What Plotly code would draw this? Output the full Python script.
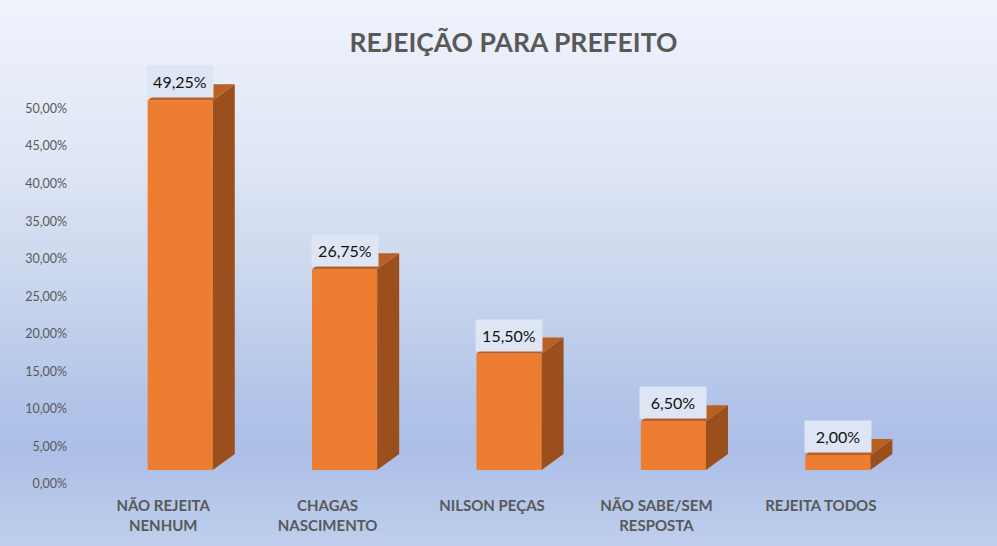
import plotly.graph_objects as go

# chart data
CATEGORIES = [
    "NÃO REJEITA<br>NENHUM",
    "CHAGAS<br>NASCIMENTO",
    "NILSON PEÇAS",
    "NÃO SABE/SEM<br>RESPOSTA",
    "REJEITA TODOS",
]
VALUES = [0.4925, 0.2675, 0.155, 0.065, 0.02]
Y_TICKS = [0.0, 0.05, 0.10, 0.15, 0.20, 0.25, 0.30, 0.35, 0.40, 0.45, 0.50]

FRONT = "#ED7D31"
SIDE = "#9B4F1D"
TOP = "#BA5F23"
TEXT_GRAY = "#595959"

W, H = 997, 546
MARGIN = dict(l=98, r=77, t=57, b=76)

BAR_W = 0.396      # bar width in category units
DEPTH_X = 0.134    # 3D depth offset (category units)
DEPTH_Y = 0.0213   # 3D depth offset (value units)

# background gradient stops: (pixel y, colour)
BG_STOPS = [
    (0, (239, 243, 252)),
    (150, (225, 231, 246)),
    (270, (204, 216, 238)),
    (400, (178, 196, 232)),
    (450, (172, 191, 230)),
    (546, (191, 206, 236)),
]


def bg_color(py):
    for (y0, c0), (y1, c1) in zip(BG_STOPS, BG_STOPS[1:]):
        if y0 <= py <= y1:
            t = (py - y0) / (y1 - y0)
            c = [round(a + (b - a) * t) for a, b in zip(c0, c1)]
            return f"rgb({c[0]},{c[1]},{c[2]})"
    c = BG_STOPS[-1][1]
    return f"rgb({c[0]},{c[1]},{c[2]})"


def px_to_paper(py):
    plot_h = H - MARGIN["t"] - MARGIN["b"]
    return (H - MARGIN["b"] - py) / plot_h


fig = go.Figure()

xs = list(range(len(VALUES)))

# front faces
fig.add_trace(go.Bar(
    x=xs, y=VALUES, width=BAR_W,
    marker=dict(color=FRONT, line=dict(width=0)),
    hoverinfo="skip", showlegend=False,
))

# side and top faces
for x, v in zip(xs, VALUES):
    r = x + BAR_W / 2
    l = x - BAR_W / 2
    fig.add_trace(go.Scatter(
        x=[r, r + DEPTH_X, r + DEPTH_X, r, r],
        y=[0, DEPTH_Y, v + DEPTH_Y, v, 0],
        mode="lines", fill="toself", fillcolor=SIDE,
        line=dict(width=0, color=SIDE),
        hoverinfo="skip", showlegend=False,
    ))
    fig.add_trace(go.Scatter(
        x=[l, l + DEPTH_X, r + DEPTH_X, r, l],
        y=[v, v + DEPTH_Y, v + DEPTH_Y, v, v],
        mode="lines", fill="toself", fillcolor=TOP,
        line=dict(width=0, color=TOP),
        hoverinfo="skip", showlegend=False,
    ))

# data labels
for x, v in zip(xs, VALUES):
    fig.add_annotation(
        x=x, y=v, xref="x", yref="y",
        text=f"{v * 100:.2f}%".replace(".", ","),
        showarrow=False, yanchor="bottom", yshift=2,
        font=dict(family="Lato", size=16, color="#111111"),
        bgcolor="#DEE6F5", width=60, height=25, borderpad=3,
    )

# background gradient bands
step = 6
shapes = []
for py in range(0, H, step):
    shapes.append(dict(
        type="rect", xref="paper", yref="paper", layer="below",
        x0=-0.2, x1=1.2,
        y0=px_to_paper(py + step + 0.5), y1=px_to_paper(py),
        fillcolor=bg_color(py + step / 2), line=dict(width=0),
    ))

fig.update_layout(
    width=W, height=H,
    margin=MARGIN,
    separators=",.",
    paper_bgcolor=bg_color(0),
    plot_bgcolor="rgba(0,0,0,0)",
    shapes=shapes,
    title=dict(
        text="<b>REJEIÇÃO PARA PREFEITO</b>",
        x=0.515, xanchor="center", y=0.921, yanchor="middle",
        font=dict(family="Lato", size=26.5, color=TEXT_GRAY),
    ),
    xaxis=dict(
        range=[-0.5, 4.5],
        tickvals=xs,
        ticktext=[f"<b>{c}</b>" for c in CATEGORIES],
        tickfont=dict(family="Lato", size=15, color=TEXT_GRAY),
        ticklabelshift=-17,
        ticklabelstandoff=25,
        showgrid=False, zeroline=False, showline=False, ticks="",
    ),
    yaxis=dict(
        range=[0, 0.55],
        tickvals=Y_TICKS,
        tickformat=".2%",
        tickfont=dict(family="Lato", size=12.5, color=TEXT_GRAY),
        ticklabelshift=14,
        ticklabelstandoff=30,
        showgrid=False, zeroline=False, showline=False, ticks="",
    ),
)

fig.write_html(
    "out.html",
    config={"displayModeBar": False},
    post_script="document.body.style.margin='0';document.body.style.overflow='hidden';",
)
